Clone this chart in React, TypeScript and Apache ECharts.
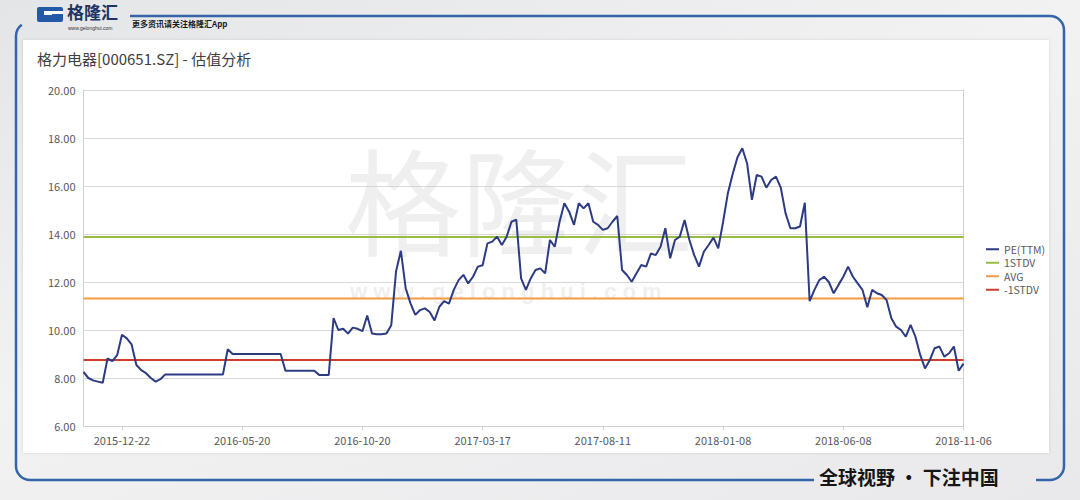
import React, { useEffect, useRef } from "react";
import * as echarts from "echarts";

const xTickLabels = [
  "2015-12-22", "2016-05-20", "2016-10-20", "2017-03-17",
  "2017-08-11", "2018-01-08", "2018-06-08", "2018-11-06",
];
const firstTickIndex = 8;
const tickStep = 25;

// PE(TTM), one reading every ~4 trading days
const peTTM = [
  8.25, 8.0, 7.9, 7.85, 7.8, 8.82, 8.7, 8.95, 9.8, 9.65,
  9.4, 8.54, 8.33, 8.2, 8.0, 7.85, 7.95, 8.15, 8.15, 8.15,
  8.15, 8.15, 8.15, 8.15, 8.15, 8.15, 8.15, 8.15, 8.15, 8.15,
  9.2, 9.0, 9.0, 9.0, 9.0, 9.0, 9.0, 9.0, 9.0, 9.0,
  9.0, 9.0, 8.3, 8.3, 8.3, 8.3, 8.3, 8.3, 8.3, 8.13,
  8.13, 8.13, 10.5, 10.0, 10.05, 9.85, 10.1, 10.05, 9.95, 10.6,
  9.85, 9.82, 9.82, 9.85, 10.2, 12.45, 13.3, 11.74, 11.11, 10.63,
  10.83, 10.9, 10.75, 10.4, 10.97, 11.2, 11.1, 11.67, 12.08, 12.3,
  11.94, 12.22, 12.64, 12.7, 13.61, 13.68, 13.89, 13.54, 13.89, 14.51,
  14.6, 12.15, 11.67, 12.15, 12.5, 12.57, 12.36, 13.75, 13.47, 14.51,
  15.28, 14.93, 14.38, 15.28, 15.07, 15.28, 14.51, 14.38, 14.17, 14.24,
  14.51, 14.75, 12.5, 12.29, 12.01, 12.36, 12.71, 12.64, 13.19, 13.12,
  13.47, 14.24, 12.99, 13.75, 13.89, 14.58, 13.75, 13.12, 12.64, 13.26,
  13.54, 13.85, 13.4, 14.5, 15.7, 16.5, 17.2, 17.57, 16.94, 15.42,
  16.46, 16.39, 15.93, 16.25, 16.39, 15.93, 14.86, 14.24, 14.24, 14.31,
  15.3, 11.2, 11.67, 12.08, 12.22, 12.0, 11.53, 11.88, 12.22, 12.64,
  12.22, 11.94, 11.67, 10.95, 11.67, 11.53, 11.46, 11.25, 10.49, 10.14,
  10.0, 9.72, 10.21, 9.72, 8.96, 8.4, 8.75, 9.24, 9.31, 8.89,
  9.03, 9.31, 8.3, 8.6,
];

const plus1Std = 13.87;
const average = 11.31;
const minus1Std = 8.75;

const yTicks = { min: 6, max: 20, interval: 2 };

const seriesNames = ["PE(TTM)", "1STDV", "AVG", "-1STDV"];
const seriesColors = ["#2c3b82", "#98bd45", "#f59a43", "#cf3b2c"];

const categories = peTTM.map((_, i) => {
  const k = i - firstTickIndex;
  return k >= 0 && k % tickStep === 0 ? xTickLabels[k / tickStep] ?? "" : "";
});

const FRAME = "#3465a8";
const CJK = "'Noto Sans CJK SC', 'Noto Sans', sans-serif";

export default function App() {
  const ref = useRef<HTMLDivElement>(null);

  useEffect(() => {
    document.body.style.margin = "0";
    const chart = echarts.init(ref.current!, undefined, { renderer: "svg" });
    const refLine = (name: string, v: number, color: string) => ({
      name,
      type: "line",
      data: categories.map(() => v),
      showSymbol: false,
      symbol: "none",
      lineStyle: { color, width: 2 },
      itemStyle: { color },
      z: 3,
    });
    chart.setOption({
      animation: false,
      textStyle: { fontFamily: CJK },
      grid: { left: 83.5, right: 116.5, top: 90, bottom: 74 },
      legend: {
        orient: "vertical",
        left: 981,
        top: 239,
        itemWidth: 13,
        itemHeight: 2,
        itemGap: 3,
        icon: "rect",
        data: seriesNames,
        textStyle: { fontSize: 10.5, color: "#595959", fontFamily: CJK },
      },
      xAxis: {
        type: "category",
        data: categories,
        boundaryGap: false,
        axisLine: { show: true, lineStyle: { color: "#d0d0d0", width: 1 } },
        axisTick: {
          show: true,
          length: 4,
          interval: (_i: number, v: string) => v !== "",
          lineStyle: { color: "#d0d0d0" },
        },
        axisLabel: {
          interval: (_i: number, v: string) => v !== "",
          color: "#595959",
          fontSize: 11,
          margin: 8,
          fontFamily: CJK,
        },
        splitLine: { show: false },
      },
      yAxis: [
        {
          type: "value",
          min: yTicks.min,
          max: yTicks.max,
          interval: yTicks.interval,
          axisLine: { show: true, lineStyle: { color: "#d0d0d0" } },
          axisTick: { show: false },
          axisLabel: {
            formatter: (v: number) => v.toFixed(2),
            color: "#595959",
            fontSize: 11,
            margin: 8,
            fontFamily: CJK,
          },
          splitLine: { show: true, lineStyle: { color: "#d9d9d9", width: 1 } },
        },
        {
          type: "value",
          position: "right",
          min: yTicks.min,
          max: yTicks.max,
          interval: yTicks.interval,
          axisLine: { show: true, lineStyle: { color: "#d0d0d0" } },
          axisTick: { show: false },
          axisLabel: { show: false },
          splitLine: { show: false },
        },
      ],
      series: [
        {
          name: seriesNames[0],
          type: "line",
          data: peTTM,
          showSymbol: false,
          symbol: "none",
          lineStyle: { color: seriesColors[0], width: 2 },
          itemStyle: { color: seriesColors[0] },
          z: 5,
        },
        refLine(seriesNames[1], plus1Std, seriesColors[1]),
        refLine(seriesNames[2], average, seriesColors[2]),
        refLine(seriesNames[3], minus1Std, seriesColors[3]),
      ],
      graphic: [
        // watermark
        {
          type: "text",
          left: 345,
          top: 138,
          z: 1,
          style: {
            text: "格隆汇",
            font: "116px " + CJK,
            fill: "rgba(205,205,205,0.32)",
          },
        },
        {
          type: "text",
          left: 350,
          top: 280,
          z: 1,
          style: {
            text: "w w w . g e l o n g h u i . c o m",
            font: "bold 22px Arial, sans-serif",
            fill: "rgba(205,205,205,0.32)",
          },
        },
        // title
        {
          type: "text",
          left: 37,
          top: 51,
          style: {
            text: "格力电器[000651.SZ] - 估值分析",
            font: "15px " + CJK,
            fill: "#404040",
          },
        },
        // header logo
        {
          type: "rect",
          shape: { x: 37, y: 7, width: 26, height: 15, r: 2 },
          style: { fill: "#2459a8" },
        },
        {
          type: "rect",
          shape: { x: 44, y: 11, width: 19, height: 4 },
          style: { fill: "#ffffff" },
        },
        {
          type: "rect",
          shape: { x: 52, y: 14, width: 11, height: 4 },
          style: { fill: "#2459a8" },
        },
        {
          type: "text",
          left: 67,
          top: 3,
          style: { text: "格隆汇", font: "bold 17px " + CJK, fill: "#1f3462" },
        },
        {
          type: "text",
          left: 68,
          top: 25,
          style: { text: "www.gelonghui.com", font: "5px Arial, sans-serif", fill: "#333" },
        },
        {
          type: "text",
          left: 132,
          top: 19,
          style: { text: "更多资讯请关注格隆汇App", font: "bold 8px " + CJK, fill: "#1a1a1a" },
        },
        // frame
        { type: "line", shape: { x1: 130, y1: 16, x2: 1050, y2: 16 }, style: { stroke: FRAME, lineWidth: 2.5 } },
        { type: "arc", shape: { cx: 1050, cy: 30, r: 14, startAngle: -Math.PI / 2, endAngle: 0 }, style: { stroke: FRAME, lineWidth: 2.5, fill: "none" } },
        { type: "line", shape: { x1: 1064, y1: 30, x2: 1064, y2: 466 }, style: { stroke: FRAME, lineWidth: 2.5 } },
        { type: "arc", shape: { cx: 1050, cy: 466, r: 14, startAngle: 0, endAngle: Math.PI / 2 }, style: { stroke: FRAME, lineWidth: 2.5, fill: "none" } },
        { type: "line", shape: { x1: 1036, y1: 480, x2: 1050, y2: 480 }, style: { stroke: FRAME, lineWidth: 2.5 } },
        { type: "line", shape: { x1: 30, y1: 480, x2: 814, y2: 480 }, style: { stroke: FRAME, lineWidth: 2.5 } },
        { type: "arc", shape: { cx: 30, cy: 466, r: 14, startAngle: Math.PI / 2, endAngle: Math.PI }, style: { stroke: FRAME, lineWidth: 2.5, fill: "none" } },
        { type: "line", shape: { x1: 16, y1: 36, x2: 16, y2: 466 }, style: { stroke: FRAME, lineWidth: 2.5 } },
        { type: "arc", shape: { cx: 30, cy: 36, r: 14, startAngle: Math.PI, endAngle: Math.PI * 1.3 }, style: { stroke: FRAME, lineWidth: 2.5, fill: "none" } },
        // bottom slogan
        {
          type: "text",
          left: 819,
          top: 467,
          style: { text: "全球视野 · 下注中国", font: "bold 19px " + CJK, fill: "#161616" },
        },
      ],
    });
    return () => chart.dispose();
  }, []);

  return (
    <div
      style={{
        position: "fixed",
        left: 0,
        top: 0,
        width: 1080,
        height: 500,
        background: "linear-gradient(160deg, #e4e5e7 0%, #f2f2f3 45%, #e9e9eb 100%)",
        overflow: "hidden",
      }}
    >
      <div
        style={{
          position: "absolute",
          left: 23,
          top: 40,
          width: 1026,
          height: 413,
          background: "#ffffff",
          boxShadow: "0 0 3px rgba(0,0,0,0.12)",
        }}
      />
      <div ref={ref} style={{ position: "absolute", left: 0, top: 0, width: 1080, height: 500 }} />
    </div>
  );
}
